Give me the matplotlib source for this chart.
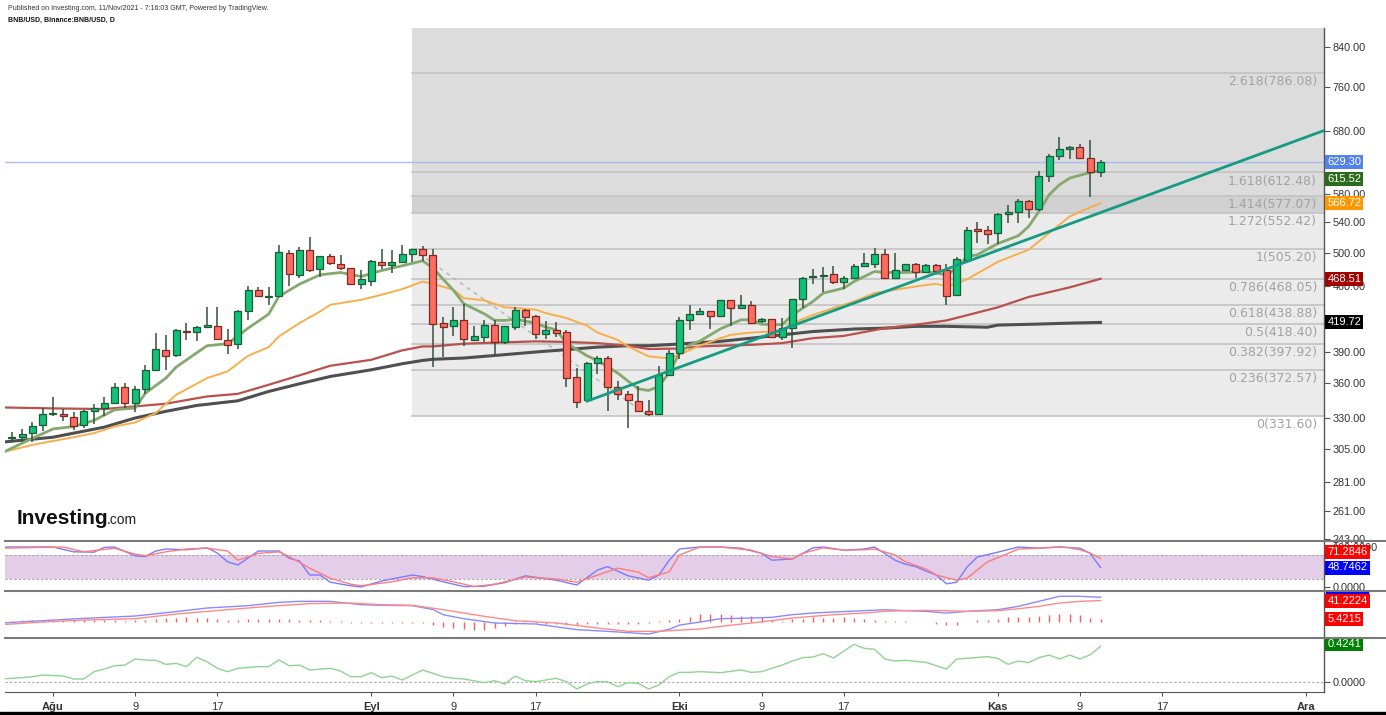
import matplotlib
matplotlib.use("Agg")
import matplotlib.pyplot as plt
import matplotlib.transforms as mtransforms
from matplotlib.lines import Line2D
from matplotlib.patches import Rectangle
from matplotlib.ticker import FixedLocator, NullLocator, FuncFormatter
import numpy as np
import pandas as pd

# ---- daily BNB/USD candles, 28 Jul 2021 .. 11 Nov 2021 ----
dates = pd.date_range("2021-07-28", "2021-11-11", freq="D")
opens = [313.5, 314.4, 317.6, 323.8, 333.0, 333.2, 330.4, 324.1, 335.7, 338.3,
         342.6, 356.6, 342.6, 354.8, 372.4, 391.9, 386.6, 411.1, 409.5, 414.9,
         416.0, 401.4, 397.2, 431.9, 455.4, 448.0, 448.1, 499.7, 473.0, 504.0,
         480.2, 495.9, 486.6, 480.9, 462.7, 466.4, 488.5, 484.9, 488.5, 498.3,
         504.8, 497.1, 419.0, 416.3, 422.3, 401.7, 404.7, 417.3, 399.9, 415.2,
         432.6, 426.1, 408.1, 411.7, 410.2, 365.4, 345.0, 379.0, 384.0, 356.4,
         350.5, 344.2, 336.1, 333.2, 367.9, 388.2, 422.3, 428.4, 431.9, 426.5,
         443.8, 435.2, 438.8, 421.6, 423.3, 405.0, 413.8, 445.2, 470.8, 472.0,
         474.5, 464.2, 469.6, 483.4, 486.6, 499.2, 469.6, 478.4, 486.5, 476.7,
         485.3, 478.8, 449.6, 491.7, 531.2, 529.9, 525.5, 551.3, 554.5, 569.6,
         559.2, 607.2, 638.7, 650.1, 653.4, 635.4, 613.8]
highs = [318.6, 320.9, 326.3, 338.3, 348.0, 337.7, 334.6, 336.8, 341.4, 348.0,
         360.2, 360.2, 357.8, 377.4, 408.6, 406.9, 413.0, 419.0, 415.5, 436.9,
         436.2, 413.1, 433.0, 460.0, 459.2, 458.5, 510.3, 504.0, 507.3, 520.3,
         496.5, 498.3, 497.1, 482.0, 478.4, 490.8, 505.3, 504.0, 510.3, 505.2,
         509.0, 504.8, 425.8, 436.2, 439.8, 416.3, 422.6, 422.6, 416.0, 436.2,
         434.5, 427.5, 420.9, 420.5, 411.7, 373.8, 379.5, 385.6, 385.6, 362.4,
         353.5, 357.8, 345.6, 376.3, 391.5, 425.1, 438.8, 435.2, 432.5, 444.5,
         444.2, 450.2, 442.7, 424.8, 423.8, 424.8, 445.5, 470.8, 480.6, 482.2,
         483.8, 471.9, 486.2, 499.6, 506.9, 504.8, 499.6, 486.8, 487.0, 486.6,
         486.6, 486.5, 494.6, 533.5, 541.1, 535.3, 553.6, 564.3, 572.5, 571.5,
         615.4, 641.4, 669.4, 655.0, 657.8, 663.9, 631.2]
lows = [310.8, 310.8, 310.3, 318.9, 331.2, 327.1, 320.3, 321.9, 325.2, 331.2,
        341.7, 338.3, 334.9, 350.1, 371.5, 372.7, 384.7, 401.1, 400.1, 413.5,
        401.1, 387.3, 392.9, 422.8, 447.4, 438.8, 447.1, 459.6, 469.3, 476.6,
        470.4, 484.9, 478.4, 461.6, 457.1, 460.6, 480.2, 475.8, 487.3, 489.3,
        490.5, 375.2, 384.7, 405.7, 395.7, 400.6, 399.6, 386.3, 398.0, 411.7,
        416.3, 402.9, 402.3, 405.0, 357.0, 338.3, 344.2, 368.5, 335.5, 345.0,
        321.9, 335.0, 331.6, 332.8, 367.5, 382.3, 411.7, 427.5, 412.8, 425.8,
        416.3, 434.8, 418.0, 418.9, 404.0, 401.1, 393.9, 435.2, 462.4, 453.0,
        462.4, 456.6, 468.0, 482.2, 481.4, 468.1, 469.2, 477.2, 469.3, 476.3,
        475.2, 438.8, 449.2, 490.9, 513.2, 511.1, 511.5, 538.8, 538.8, 545.6,
        555.1, 597.2, 631.2, 633.3, 633.3, 576.2, 606.2]
closes = [314.5, 316.8, 323.0, 333.2, 333.8, 331.5, 323.0, 335.7, 338.0, 342.6,
          356.6, 342.6, 354.8, 372.4, 392.2, 386.0, 412.1, 410.1, 414.9, 417.0,
          402.4, 396.5, 432.2, 455.4, 448.8, 449.0, 501.4, 473.7, 504.0, 478.4,
          495.9, 487.3, 480.9, 462.7, 467.8, 490.1, 484.9, 489.3, 498.3, 504.8,
          497.1, 418.0, 414.9, 422.3, 402.3, 405.7, 417.3, 399.9, 415.6, 432.6,
          425.1, 407.4, 411.7, 409.2, 364.5, 343.2, 379.0, 384.0, 356.4, 350.5,
          345.0, 335.5, 333.2, 367.9, 388.2, 422.6, 428.4, 431.9, 426.5, 443.8,
          435.2, 438.8, 418.9, 423.3, 405.0, 413.8, 445.2, 469.6, 471.9, 473.4,
          464.2, 469.3, 483.8, 487.5, 499.2, 469.6, 478.8, 486.5, 476.7, 485.3,
          477.9, 448.5, 492.2, 529.9, 528.1, 524.1, 551.7, 554.5, 569.6, 558.3,
          607.2, 637.6, 650.1, 653.4, 634.9, 613.8, 629.3]
last_price = 629.30

# moving averages (day offset from 1 Aug 2021, price)
ma_fast_x = [-5, -2, 0, 2, 4, 6, 8, 9, 11, 12, 15, 17, 19, 21, 22, 24, 26, 28, 30, 32,
             34, 36, 37, 39, 40, 42, 43, 44, 45, 47, 48, 49, 50, 52, 53, 55, 56, 57, 58,
             59, 60, 61, 62, 63, 65, 67, 68, 69, 71, 72, 74, 75, 77, 78, 80, 81, 83, 85,
             86, 87, 88, 89, 90, 92, 94, 95, 96, 97, 98, 99, 101, 102]
ma_fast_y = [302.0, 313.5, 320.9, 322.9, 327.9, 336.8, 338.3, 351.2, 364.8, 375.1, 395.8,
             397.8, 413.7, 428.6, 448.1, 462.2, 473.2, 476.0, 471.2, 478.4, 484.1, 490.2,
             481.2, 455.0, 440.0, 428.9, 422.0, 421.8, 423.2, 419.0, 414.7, 412.0, 398.4,
             385.9, 381.4, 369.4, 362.0, 355.0, 353.6, 357.2, 370.0, 388.5, 396.7, 400.5,
             413.0, 422.5, 422.5, 417.8, 417.3, 427.7, 442.5, 451.9, 457.6, 465.3, 477.2,
             476.0, 476.0, 477.2, 475.2, 473.2, 481.2, 495.6, 497.7, 512.0, 522.2, 534.5,
             555.1, 578.9, 593.7, 603.8, 612.4, 615.52]
ma_mid_x = [-5, -2, 2, 4, 6, 8, 10, 12, 15, 17, 19, 21, 22, 24, 26, 27, 30, 32, 34, 36,
            37, 39, 40, 42, 44, 45, 47, 48, 50, 52, 53, 55, 56, 58, 60, 61, 63, 65, 66,
            68, 70, 71, 72, 74, 76, 78, 80, 83, 85, 86, 87, 88, 89, 92, 95, 97, 99, 101, 102]
ma_mid_y = [302.5, 308.3, 314.3, 317.6, 322.9, 326.2, 334.0, 349.8, 364.8, 371.0, 385.9,
            394.4, 405.1, 419.0, 431.4, 438.8, 444.3, 450.0, 456.5, 465.3, 462.6, 455.7,
            446.2, 443.8, 436.0, 435.2, 433.5, 429.6, 424.4, 416.3, 409.2, 401.7, 395.0,
            385.3, 383.4, 387.0, 396.0, 403.4, 406.8, 409.2, 410.2, 412.0, 419.0, 427.7,
            435.2, 442.5, 451.9, 457.6, 461.2, 462.6, 460.0, 463.0, 468.0, 489.0, 504.1,
            525.7, 548.2, 561.0, 566.72]
ma_slow_x = [-5, 0, 5, 8, 11, 15, 18, 21, 24, 27, 31, 34, 36, 37, 40, 44, 47, 50, 53,
             56, 58, 61, 63, 65, 68, 71, 74, 77, 81, 84, 87, 92, 95, 99, 102]
ma_slow_y = [338.8, 338.0, 337.4, 339.7, 342.0, 348.3, 350.6, 358.7, 367.3, 376.3, 382.0,
             391.2, 395.1, 395.1, 397.8, 399.2, 400.2, 399.6, 398.4, 395.8, 392.5, 393.0,
             395.1, 395.8, 396.7, 398.4, 403.4, 405.7, 413.7, 417.3, 421.8, 436.0, 447.5,
             458.5, 468.51]
ma_long_x = [-5, 0, 5, 8, 11, 14, 18, 21, 24, 27, 31, 34, 36, 37, 40, 44, 47, 50, 53,
             56, 58, 61, 65, 68, 71, 74, 78, 81, 84, 87, 91, 92, 96, 99, 102]
ma_long_y = [310.4, 314.3, 322.4, 329.9, 335.5, 340.5, 344.5, 352.7, 359.6, 366.3, 372.5,
             378.2, 381.4, 382.5, 383.7, 387.0, 389.6, 391.9, 394.4, 395.8, 395.8, 397.5,
             400.2, 403.4, 406.8, 410.2, 412.8, 413.7, 415.6, 415.6, 414.7, 416.9, 418.0,
             419.0, 419.72]

# Fibonacci retracement (drawn from 6 Sep high to 28 Sep low)
fib_anchor_x = [35, 58]
fib_anchor_y = [505.20, 331.60]
fib_ratios = [0, 0.236, 0.382, 0.5, 0.618, 0.786, 1, 1.272, 1.414, 1.618, 2.618, 3.618]
fib_prices = [331.60, 372.57, 397.92, 418.40, 438.88, 468.05, 505.20, 552.42, 577.07,
              612.48, 786.08, 959.68]
fib_zone_colors = ['#ebebeb'] * 7 + ['#d1d1d1', '#dcdcdc', '#dcdcdc', '#dcdcdc']

# rising trend line (ray)
trend_x = [52, 87]
trend_y = [344.2, 480.0]

price_ticks = [243, 261, 281, 305, 330, 360, 390, 460, 500, 540, 580, 680, 760, 840]
# (value, colour, vertical nudge in points so the tags do not collide)
price_tags = [(629.30, '#5383ea', 0), (615.52, '#2c6b1d', -6), (566.72, '#ff9800', 0),
              (468.51, '#a30000', 0), (419.72, '#000000', 0)]

# stochastic
stoch_k_x = [-5, 0, 2, 4, 5, 6, 8, 9, 10, 11, 13, 15, 16, 17, 18, 20, 22, 23, 24, 25, 26,
             27, 29, 30, 32, 33, 35, 36, 38, 40, 42, 44, 46, 49, 51, 53, 54, 56, 58, 59, 60,
             61, 63, 65, 67, 69, 70, 72, 74, 75, 77, 79, 80, 82, 83, 84, 85, 86, 87, 88, 89,
             90, 92, 94, 96, 98, 100, 101, 102]
stoch_k = [100, 100, 88, 87, 99, 100, 78, 76, 90, 95, 93, 98, 85, 63, 55, 90, 90, 72, 65,
           30, 30, 12, 3, 0, 15, 20, 30, 26, 13, 1, 2, 11, 28, 17, 5, 42, 51, 28, 17, 30, 67,
           95, 100, 100, 97, 84, 67, 70, 98, 100, 92, 95, 100, 67, 57, 51, 40, 30, 8, 12, 50,
           75, 87, 100, 97, 100, 97, 84, 48.75]
stoch_d_x = [-5, 1, 3, 6, 8, 9, 11, 13, 15, 17, 18, 20, 22, 23, 25, 27, 29, 30, 33, 35, 37,
             39, 41, 43, 46, 49, 51, 55, 57, 58, 60, 61, 63, 65, 68, 70, 72, 73, 75, 77, 79,
             80, 82, 83, 85, 86, 88, 89, 91, 93, 94, 96, 98, 99, 100, 101, 102]
stoch_d = [97, 100, 88, 97, 82, 78, 88, 95, 97, 90, 67, 84, 88, 76, 47, 22, 7, 3, 13, 23,
           23, 13, 1, 7, 25, 20, 12, 47, 37, 23, 38, 80, 100, 100, 92, 76, 70, 84, 98, 92,
           93, 95, 80, 63, 45, 30, 17, 22, 63, 84, 95, 97, 100, 98, 93, 85, 71.28]

# MACD
macd_x = [-5, -1, 3, 8, 12, 15, 19, 22, 24, 27, 30, 32, 35, 37, 38, 40, 43, 47, 51, 54,
          58, 60, 61, 63, 65, 68, 70, 72, 74, 76, 79, 81, 83, 85, 87, 89, 92, 94, 96, 98,
          100, 102]
macd_line = [-2, 2.6, 7, 11.5, 20, 26.9, 31.4, 37.8, 39.7, 39.7, 33.3, 32.1, 31.4, 24, 14,
             6.4, -1.9, -3.8, -14.7, -17.9, -23.1, -14, -6, 0, 6.4, 7.7, 9, 14.1, 17.3, 19.2,
             21.8, 23.7, 21.8, 20.5, 17.3, 20.5, 23.7, 30.1, 39.7, 49.4, 49.4, 47.4]
signal_x = [-5, -1, 3, 8, 12, 17, 21, 25, 29, 32, 35, 38, 42, 45, 49, 53, 56, 59, 61, 63,
            65, 68, 70, 72, 74, 76, 79, 81, 83, 85, 87, 89, 92, 94, 96, 98, 100, 102]
signal_line = [-5.1, 0, 3.8, 6.4, 15.4, 23.7, 30.1, 35.3, 36.5, 33.3, 32.1, 23.7, 10.9, 2.6,
               -1.9, -11.5, -17.9, -17.9, -15.5, -13.5, -8.3, -1.9, 2.6, 7.7, 10.9, 14.1,
               17.3, 20.5, 21.8, 22.4, 21.8, 20.5, 21.8, 25.6, 30.1, 36.5, 39.7, 41.22]
macd_hist = [2, 3, 3, 3, 4, 4, 3, 3, 3, 3, 3, 2, 3, 4, 6, 7, 8, 9, 8, 7,
             5, 3, 4, 5, 5, 6, 6, 5, 4, 4, 3, 2, 1, -1, -1.5, -1.5, -1, -1.5, -1, -1.5,
             -1, -6, -9, -11, -14, -16, -15, -12, -8, -4, -2, -2, -3, -4, -5, -5, -4, -4, -4, -4,
             -3, -3, -2, 1, 3, 6, 9, 15, 15.4, 16, 14, 12, 11, 9, 4.5, 2.5, 6, 6.4, 9, 7.7,
             7.7, 9, 7.7, 6, 4, 2.5, 2, 2.5, 0.3, 0.3, -4, -5, -5, 0.3, 4, 4.5, 6.4, 9, 10, 10,
             11.5, 12.8, 16, 15, 14, 7.7, 5.42]

# lower oscillator
osc_x = [-5, -3, -2, -1, 1, 2, 3, 4, 5, 6, 7, 8, 9, 10, 11, 12, 13, 14, 15, 16, 17, 18, 20,
         21, 22, 23, 24, 25, 27, 28, 29, 30, 31, 32, 33, 34, 36, 37, 38, 39, 40, 42, 43, 44,
         45, 46, 47, 49, 50, 51, 52, 53, 54, 55, 56, 57, 58, 59, 60, 61, 62, 63, 65, 67, 68,
         69, 71, 72, 73, 74, 75, 76, 78, 79, 80, 81, 82, 83, 85, 87, 88, 89, 91, 92, 93, 94,
         95, 96, 97, 98, 99, 100, 101, 102]
osc_vals = [0.036, 0.052, 0.063, 0.083, 0.071, 0.036, 0.036, 0.123, 0.155, 0.194, 0.202,
            0.274, 0.262, 0.258, 0.210, 0.222, 0.183, 0.294, 0.242, 0.163, 0.123, 0.163,
            0.183, 0.183, 0.262, 0.194, 0.202, 0.143, 0.163, 0.131, 0.063, 0.063, 0.111,
            0.052, 0.071, 0.024, 0.143, 0.103, 0.063, 0.044, 0.036, -0.008, 0.016, -0.024,
            0.071, 0.016, 0.004, 0.044, 0.004, -0.083, -0.024, 0.004, 0.004, -0.056, -0.008,
            -0.016, -0.083, -0.036, 0.063, 0.115, 0.115, 0.123, 0.111, 0.143, 0.115, 0.123,
            0.202, 0.250, 0.290, 0.298, 0.337, 0.286, 0.448, 0.401, 0.389, 0.274, 0.250,
            0.258, 0.234, 0.155, 0.274, 0.282, 0.302, 0.282, 0.210, 0.250, 0.230, 0.290,
            0.321, 0.274, 0.321, 0.274, 0.325, 0.4241]

tick_days = [0, 8, 16, 31, 39, 47, 61, 69, 77, 92, 100, 108, 122]
tick_labels = ["Ağu", "9", "17", "Eyl", "9", "17", "Eki", "9", "17", "Kas", "9", "17", "Ara"]
month_names = {"Ağu", "Eyl", "Eki", "Kas", "Ara"}

# ---------------------------------------------------------------
plt.rcParams['font.family'] = ['Liberation Sans', 'DejaVu Sans']

W, H = 1386, 715
fig = plt.figure(figsize=(W / 100, H / 100), dpi=100)
fig.patch.set_facecolor('white')


def px_box(x0, y0, x1, y1):
    return [x0 / W, 1 - y1 / H, (x1 - x0) / W, (y1 - y0) / H]


ax = fig.add_axes(px_box(5, 28, 1324, 540))
ax_st = fig.add_axes(px_box(5, 541, 1324, 590))
ax_md = fig.add_axes(px_box(5, 591, 1324, 637))
ax_os = fig.add_axes(px_box(5, 638, 1324, 692))

xmin, xmax = -4.67, 123.76
for a in (ax, ax_st, ax_md, ax_os):
    a.set_xlim(xmin, xmax)
    for s in ('top', 'left', 'bottom'):
        a.spines[s].set_visible(False)
    a.spines['right'].set_color('#555555')
    a.spines['right'].set_linewidth(1)
    a.yaxis.tick_right()
    a.tick_params(axis='y', which='both', direction='out', length=4, width=0.8,
                  colors='#555555', labelcolor='#333333', labelsize=7.8, pad=2)
    a.tick_params(axis='x', which='both', bottom=False, labelbottom=False)


def tag(a, y, text, fc, dy=0):
    tr = mtransforms.blended_transform_factory(a.transAxes, a.transData)
    a.annotate(text, xy=(1.0, y), xycoords=tr, xytext=(2.5, dy), textcoords='offset points',
               ha='left', va='center', fontsize=8, color='white', zorder=10,
               bbox=dict(boxstyle='square,pad=0.18', fc=fc, ec='none'),
               annotation_clip=False)


# ---- main price panel ----
ax.set_yscale('log')
ax.set_ylim(242.6, 881.3)
ax.yaxis.set_major_locator(FixedLocator(price_ticks))
ax.yaxis.set_minor_locator(NullLocator())
ax.yaxis.set_major_formatter(FuncFormatter(lambda v, p: f"{v:.2f}"))

fx = [fib_anchor_x[0], xmax]
for i in range(len(fib_prices) - 1):
    ax.fill_between(fx, fib_prices[i], fib_prices[i + 1], color=fib_zone_colors[i],
                    lw=0, zorder=0.5)
blend = mtransforms.blended_transform_factory(ax.transAxes, ax.transData)
for r, p in zip(fib_ratios, fib_prices):
    ax.plot(fx, [p, p], color='#c3c3c3', lw=1.2, zorder=0.6)
    ax.annotate(f"{r:g}({p:.2f})", xy=(0.9947, p), xycoords=blend, xytext=(0, -1.5),
                textcoords='offset points', ha='right', va='top', fontsize=9,
                color='#a2a2a2', family='DejaVu Sans', annotation_clip=True)
ax.plot(fib_anchor_x, fib_anchor_y, color='#b4b4b4', lw=1, ls=(0, (3, 3)), zorder=0.7)

ax.axhline(last_price, color='#aabdf0', lw=1, zorder=0.8)

ax.plot(ma_long_x, ma_long_y, color='#4f4f4f', lw=2.2, zorder=2)
ax.plot(ma_slow_x, ma_slow_y, color='#b9514d', lw=1.6, zorder=2)
ax.plot(ma_mid_x, ma_mid_y, color='#f7af4b', lw=1.4, zorder=2)
ax.plot(ma_fast_x, ma_fast_y, color='#84a86e', lw=2.0, zorder=2)

xd = (dates - pd.Timestamp("2021-08-01")).days.values
o, h, l, c = (np.array(v) for v in (opens, highs, lows, closes))
up = c >= o
lo_b, hi_b = np.minimum(o, c), np.maximum(o, c)
ax.vlines(xd, l, h, color='#35503d', lw=1.1, zorder=3)
ax.bar(xd[up], hi_b[up] - lo_b[up], bottom=lo_b[up], width=0.68, color='#0fc277',
       edgecolor='#1f5a35', linewidth=0.9, zorder=4)
ax.bar(xd[~up], hi_b[~up] - lo_b[~up], bottom=lo_b[~up], width=0.68, color='#ff6b5f',
       edgecolor='#7c2a24', linewidth=0.9, zorder=4)

k = (np.log(trend_y[1]) - np.log(trend_y[0])) / (trend_x[1] - trend_x[0])
ax.plot([trend_x[0], xmax], [trend_y[0], trend_y[0] * np.exp(k * (xmax - trend_x[0]))],
        color='#169b83', lw=2, zorder=5)

for val, col, dy in price_tags:
    tag(ax, val, f"{val:.2f}", col, dy)

# ---- stochastic ----
ax_st.set_ylim(-7.5, 115)
ax_st.axhspan(20, 80, color='#e3cde8', lw=0, zorder=0)
for lvl in (20, 80):
    ax_st.axhline(lvl, color='#a5a5a5', lw=0.8, ls=(0, (2, 2)), zorder=0.5)
ax_st.plot(stoch_k_x, stoch_k, color='#7b7bff', lw=1)
ax_st.plot(stoch_d_x, stoch_d, color='#ff7b7b', lw=1)
ax_st.set_yticks([0, 100])
ax_st.set_yticklabels(["0.0000", "100.0000"])
tag(ax_st, stoch_d[-1], "71.2846", '#ff0000', dy=4.5)
tag(ax_st, stoch_k[-1], "48.7462", '#0000ff')

# ---- MACD ----
ax_md.set_ylim(-28.8, 59.6)
ax_md.vlines(xd, 0, macd_hist, color='#ff5959', lw=1)
ax_md.plot(macd_x, macd_line, color='#8a8aff', lw=1)
ax_md.plot(signal_x, signal_line, color='#ff8a8a', lw=1)
ax_md.set_yticks([])
# blue MACD tag, almost fully hidden behind the signal tag
md_tr = mtransforms.blended_transform_factory(ax_md.transAxes, ax_md.transData)
ax_md.add_patch(Rectangle((1.0012, macd_line[-1] - 8), 0.0318, 20, transform=md_tr,
                          color='#0000ff', clip_on=False, zorder=9))
tag(ax_md, signal_line[-1], "41.2224", '#ff0000')
tag(ax_md, macd_hist[-1], "5.4215", '#ff0000')

# ---- lower oscillator ----
ax_os.set_ylim(-0.119, 0.524)
ax_os.axhline(0, color='#aaaaaa', lw=0.8, ls=(0, (2, 2)))
ax_os.plot(osc_x, osc_vals, color='#8fd48f', lw=1)
ax_os.set_yticks([0])
ax_os.set_yticklabels(["0.0000"])
tag(ax_os, osc_vals[-1], "0.4241", '#008000', dy=1.5)

ax_os.set_xticks(tick_days)
ax_os.set_xticklabels(tick_labels)
ax_os.tick_params(axis='x', bottom=True, labelbottom=True, direction='out', length=3,
                  width=0.8, colors='#555555', labelcolor='#333333', labelsize=8, pad=4)
for t, lab in zip(ax_os.get_xticklabels(), tick_labels):
    if lab in month_names:
        t.set_fontweight('bold')

# panel separators, bottom axis line, bottom bar
for yy, xe, lw, col in [(541, W, 1.5, '#7a7a7a'), (590.5, W, 1.5, '#7a7a7a'),
                        (637.5, W, 1.5, '#7a7a7a'), (692, 1324, 0.8, '#555555')]:
    fig.add_artist(Line2D([5 / W, xe / W], [1 - yy / H, 1 - yy / H], color=col, lw=lw,
                          zorder=20))
fig.add_artist(Rectangle((0, 0), 1, 3 / H, transform=fig.transFigure, color='black'))

# header and logo
fig.text(8 / W, 1 - 8 / H, "Published on Investing.com, 11/Nov/2021 - 7:16:03 GMT, Powered by TradingView.",
         fontsize=5, color='#333333', va='center')
fig.text(8 / W, 1 - 20 / H, "BNB/USD, Binance:BNB/USD, D", fontsize=5, color='#111111',
         va='center', fontweight='bold')
fig.text(17 / W, 1 - 524 / H, "Investing", fontsize=15, fontweight='bold', color='#111111',
         va='baseline')
fig.text(107 / W, 1 - 524 / H, ".com", fontsize=10, color='#222222', va='baseline')

fig.savefig("out.png", dpi=100)
